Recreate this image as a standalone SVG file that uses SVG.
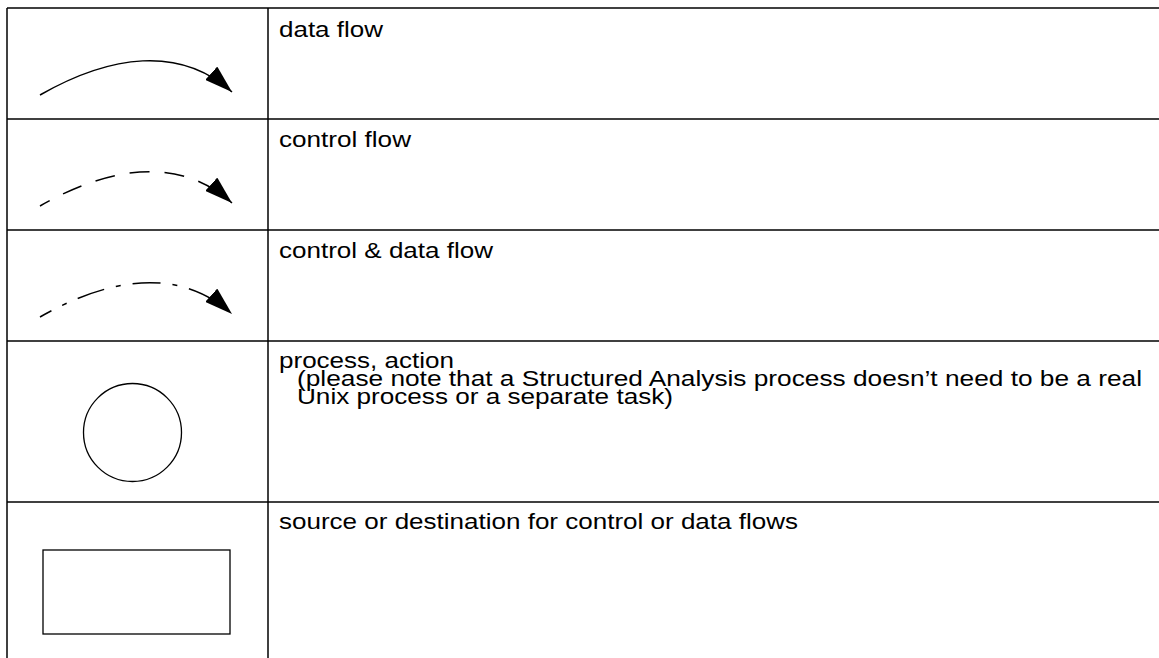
<svg xmlns="http://www.w3.org/2000/svg" width="1159" height="658" viewBox="0 0 1159 658">
  <style>
    .rule { stroke: #000; stroke-width: 1.5; fill: none; }
    .flow { stroke: #000; stroke-width: 1.5; fill: none; }
    .label { font-family: "Liberation Sans", Arial, sans-serif; font-size: 22px; fill: #000; }
    .shape { stroke: #000; stroke-width: 1.3; fill: none; }
  </style>
  <defs>
    <marker id="head" viewBox="0 0 28 18" refX="28" refY="9" markerWidth="28" markerHeight="18" markerUnits="userSpaceOnUse" orient="auto">
      <path d="M0,0 L28,9 L0,18 z" fill="#000"/>
    </marker>
  </defs>

  <!-- table grid -->
  <g id="grid">
    <line class="rule" x1="7" y1="8" x2="1159" y2="8"/>
    <line class="rule" x1="7" y1="119" x2="1159" y2="119"/>
    <line class="rule" x1="7" y1="230" x2="1159" y2="230"/>
    <line class="rule" x1="7" y1="341" x2="1159" y2="341"/>
    <line class="rule" x1="7" y1="502" x2="1159" y2="502"/>
    <line class="rule" x1="7" y1="8" x2="7" y2="658"/>
    <line class="rule" x1="268" y1="8" x2="268" y2="658"/>
  </g>

  <!-- legend symbols: flow arrows -->
  <g id="connectors">
    <path id="data-flow" class="flow" d="M40,95 C110,55 180,45 232,92" marker-end="url(#head)"/>
    <path id="control-flow" class="flow" stroke-dasharray="20,15" stroke-dashoffset="9" d="M40,206 C110,166 180,156 232,203" marker-end="url(#head)"/>
    <path id="control-data-flow" class="flow" stroke-dasharray="28,12,5,12" stroke-dashoffset="15" d="M40,317 C110,277 180,267 232,314" marker-end="url(#head)"/>
  </g>

  <g id="process">
    <circle class="shape" cx="132.5" cy="432.5" r="49"/>
  </g>

  <g id="terminator">
    <rect class="shape" x="43" y="550" width="187" height="84"/>
  </g>

  <!-- descriptions -->
  <g id="descriptions">
    <text class="label" x="279" y="37" textLength="104" lengthAdjust="spacingAndGlyphs">data flow</text>
    <text class="label" x="279" y="147" textLength="132" lengthAdjust="spacingAndGlyphs">control flow</text>
    <text class="label" x="279" y="258" textLength="214" lengthAdjust="spacingAndGlyphs">control &amp; data flow</text>
    <text class="label" x="279" y="368" textLength="175" lengthAdjust="spacingAndGlyphs">process, action</text>
    <text class="label" x="297" y="386" textLength="845" lengthAdjust="spacingAndGlyphs">(please note that a Structured Analysis process doesn’t need to be a real</text>
    <text class="label" x="297" y="404" textLength="376" lengthAdjust="spacingAndGlyphs">Unix process or a separate task)</text>
    <text class="label" x="279" y="529" textLength="519" lengthAdjust="spacingAndGlyphs">source or destination for control or data flows</text>
  </g>
</svg>
